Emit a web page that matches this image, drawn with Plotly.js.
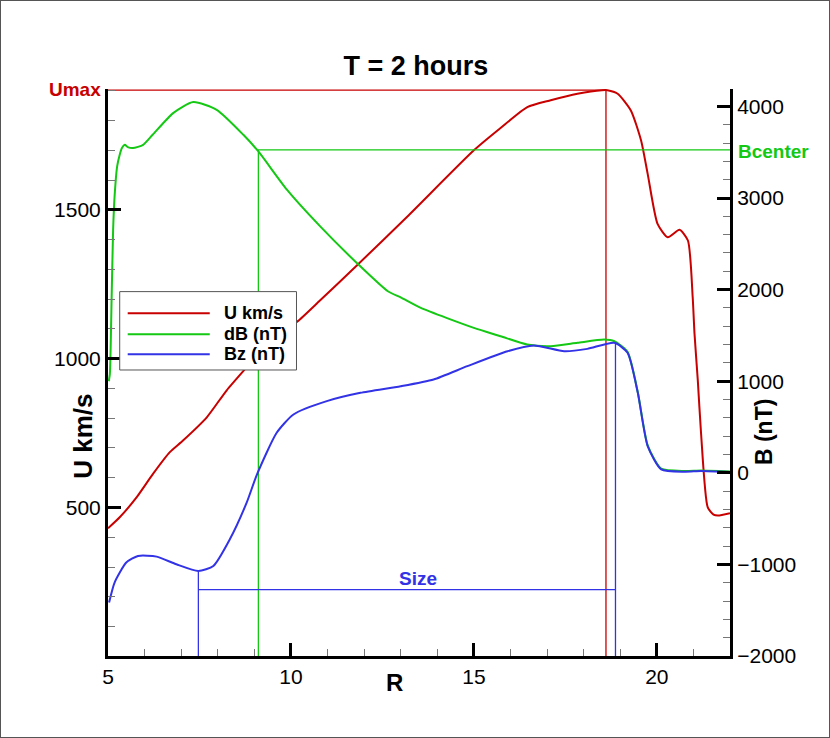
<!DOCTYPE html>
<html>
<head>
<meta charset="utf-8">
<script src="https://cdn.plot.ly/plotly-3.0.1.min.js"></script>
<style>
  body { margin: 0; background: #fff; }
  #frame { width: 830px; height: 738px; box-sizing: border-box; border: 1px solid #555; }
</style>
</head>
<body>
<div id="frame"><div id="plot"></div></div>
<script>
// U km/s (left axis)
var rU = [5.0, 5.32, 5.78, 6.23, 6.69, 7.05, 7.70, 8.24, 8.79, 9.52, 10.16, 10.8, 11.8, 13.17,
          15.0, 15.73, 16.46, 17.1, 17.83, 18.5, 18.65, 18.93, 19.29, 19.57, 19.75,
          20.02, 20.3, 20.62, 20.85, 20.98, 21.03, 21.12, 21.21, 21.39, 21.55, 21.67, 22.0];
var uVals = [430, 467, 534, 613, 686, 725, 803, 893, 971, 1072, 1123, 1196, 1313, 1476,
             1700, 1775, 1845, 1868, 1890, 1902, 1902, 1890, 1834, 1733, 1621,
             1453, 1408, 1433, 1397, 1207, 1084, 927, 747, 501, 476, 473, 481];

// dB (nT) (right axis)
var rDB = [5.02, 5.05, 5.1, 5.14, 5.18, 5.25, 5.32, 5.38, 5.46, 5.54, 5.68, 5.96, 6.22, 6.78,
           7.33, 7.97, 8.70, 9.11, 9.89, 10.8, 11.8, 12.65, 13.0, 13.55, 15.0, 15.73, 16.46,
           17.1, 17.83, 18.56, 18.84, 19.2, 19.48, 19.75, 20.12, 20.76, 21.21, 22.0];
var dbVals = [1000, 1074, 1927, 2654, 3018, 3345, 3472, 3545, 3581, 3556, 3545, 3581, 3690, 3927,
              4047, 3963, 3690, 3508, 3091, 2690, 2291, 1982, 1915, 1800, 1582, 1491, 1400,
              1382, 1419, 1455, 1436, 1320, 880, 300, 45, 20, 25, 15];

// Bz (nT) (right axis)
var rBz = [5.03, 5.18, 5.5, 5.82, 6.33, 6.87, 7.47, 7.88, 8.33, 8.79, 9.07, 9.61, 10.07, 10.98,
           11.9, 13.0, 13.9, 14.82, 15.92, 16.64, 17.47, 18.1, 18.84, 19.2, 19.48, 19.75,
           20.12, 20.76, 21.21, 22.0];
var bzVals = [-1416, -1198, -980, -908, -915, -999, -1072, -1017, -726, -326, -20, 437, 637, 782,
              873, 945, 1019, 1164, 1327, 1389, 1327, 1353, 1419, 1310, 873, 291,
              37, 12, 19, 8];

// marker lines
var rUmax = 18.61, uMax = 1902;
var rBcenter = 9.11, bCenter = 3525;
var rSizeIn = 7.47, rSizeOut = 18.87, bSize = -1275, bzAtIn = -1072, bzAtOut = 1415;

var red = '#c80000', green = '#14c814', blue = '#3232e6';
var font = 'Liberation Sans, Arial, sans-serif';

// page pixel -> paper coords (plot area 107.3..729 x 88.3..654.7 inside the 1px frame)
function px(x) { return (x - 1 - 107.3) / 621.7; }
function py(y) { return (654.7 - (y - 1)) / 566.4; }

var traces = [
  { x: [5, rUmax, rUmax], y: [uMax, uMax, 0], yaxis: 'y', mode: 'lines',
    line: { color: red, width: 1.3 }, hoverinfo: 'skip' },
  { x: [22, rBcenter, rBcenter], y: [bCenter, bCenter, -2000], yaxis: 'y2', mode: 'lines',
    line: { color: green, width: 1.3 }, hoverinfo: 'skip' },
  { x: [rSizeIn, rSizeIn, null, rSizeIn, rSizeOut, null, rSizeOut, rSizeOut],
    y: [-2000, bzAtIn, null, bSize, bSize, null, -2000, bzAtOut], yaxis: 'y2', mode: 'lines',
    line: { color: blue, width: 1.3 }, hoverinfo: 'skip' },
  { x: rU, y: uVals, yaxis: 'y', mode: 'lines', name: 'U km/s',
    line: { color: red, width: 2, shape: 'spline', smoothing: 0.6 } },
  { x: rDB, y: dbVals, yaxis: 'y2', mode: 'lines', name: 'dB (nT)',
    line: { color: green, width: 2, shape: 'spline', smoothing: 0.6 } },
  { x: rBz, y: bzVals, yaxis: 'y2', mode: 'lines', name: 'Bz (nT)',
    line: { color: blue, width: 2, shape: 'spline', smoothing: 0.6 } }
];

var axisStyle = {
  ticks: 'inside', ticklen: 13, tickwidth: 3, tickcolor: '#000',
  showline: true, linewidth: 3, linecolor: '#000',
  showgrid: false, zeroline: false,
  tickfont: { family: font, size: 21, color: '#000' }
};
function minor(d) {
  return { dtick: d, ticks: 'inside', ticklen: 7, tickwidth: 1, tickcolor: '#777' };
}

var legendNames = ['U km/s', 'dB (nT)', 'Bz (nT)'];
var legendColors = [red, green, blue];
var legendRows = [313.3, 334.3, 354.3];

var shapes = [{
  type: 'rect', xref: 'paper', yref: 'paper',
  x0: px(120), x1: px(296.7), y0: py(291.7), y1: py(370),
  line: { color: '#555', width: 1 }, fillcolor: '#fff'
}];
var annotations = [];
legendNames.forEach(function (name, i) {
  shapes.push({ type: 'line', xref: 'paper', yref: 'paper',
    x0: px(128), x1: px(210), y0: py(legendRows[i]), y1: py(legendRows[i]),
    line: { color: legendColors[i], width: 2 } });
  annotations.push({ xref: 'paper', yref: 'paper', x: px(222), y: py(legendRows[i]),
    xanchor: 'left', yanchor: 'middle', showarrow: false, text: '<b>' + name + '</b>',
    font: { family: font, size: 18, color: '#000' } });
});

function label(text, x, y, size, color, xanchor, angle) {
  return { xref: 'paper', yref: 'paper', x: px(x), y: py(y), xanchor: xanchor || 'center',
    yanchor: 'middle', showarrow: false, textangle: angle || 0,
    text: '<b>' + text + '</b>', font: { family: font, size: size, color: color } };
}
annotations.push(label('U km/s', 83, 436, 26, '#000', 'center', -90));
annotations.push(label('B (nT)', 764, 432, 23, '#000', 'center', -90));
annotations.push(label('R', 395, 682, 24, '#000'));
annotations.push(label('Umax', 103, 90, 19, red, 'right'));
annotations.push(label('Bcenter', 736, 152, 19, green, 'left'));
annotations.push(label('Size', 418, 578, 19, blue));

var layout = {
  width: 828, height: 736,
  margin: { l: 107, r: 99, t: 88, b: 81 },
  paper_bgcolor: '#fff', plot_bgcolor: '#fff',
  showlegend: false,
  title: { text: '<b>T = 2 hours</b>', font: { family: font, size: 27, color: '#000' },
           x: 415 / 828, xanchor: 'center', y: 1 - 65 / 736, yanchor: 'middle' },
  xaxis: Object.assign({}, axisStyle, { range: [5, 22], tick0: 5, dtick: 5, minor: minor(1) }),
  yaxis: Object.assign({}, axisStyle, { range: [1, 1906], tick0: 0, dtick: 500, minor: minor(100) }),
  yaxis2: Object.assign({}, axisStyle, { range: [-2000, 4190], tick0: 0, dtick: 1000,
    minor: minor(200), overlaying: 'y', side: 'right' }),
  shapes: shapes,
  annotations: annotations
};

Plotly.newPlot('plot', traces, layout, { displayModeBar: false, staticPlot: true });
</script>
</body>
</html>
